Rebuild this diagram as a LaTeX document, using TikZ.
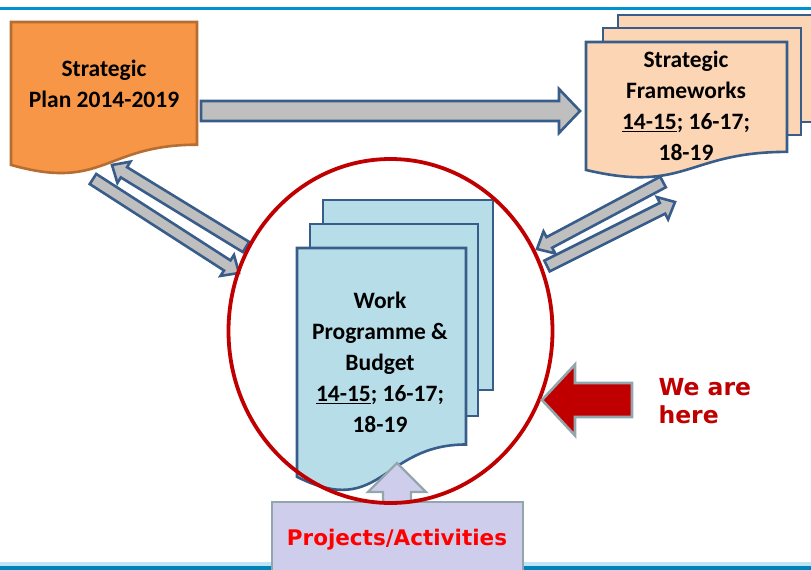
\documentclass[tikz,border=0pt]{standalone}
\usepackage{fontspec}
\setmainfont{Carlito}
\newfontfamily\verdana{DejaVu Sans}
\usetikzlibrary{calc}

\definecolor{slideblue}{RGB}{0,146,208}
\definecolor{planorange}{RGB}{247,150,70}
\definecolor{planedge}{RGB}{182,109,49}
\definecolor{frameskin}{RGB}{252,213,181}
\definecolor{docedge}{RGB}{56,93,138}
\definecolor{workblue}{RGB}{183,222,232}
\definecolor{arrowgray}{RGB}{191,191,191}
\definecolor{darkred}{RGB}{192,0,0}
\definecolor{slategray}{RGB}{147,166,172}
\definecolor{lavender}{RGB}{206,206,236}

% document sheet with wavy bottom: style, x, y, width, height
\newcommand{\docshape}[5]{%
  \draw[#1] (#2,#3) -- ({#2+#4},#3) -- ({#2+#4},{#3+0.802*#5})
    .. controls ({#2+0.5*#4},{#3+0.802*#5}) and ({#2+0.5*#4},{#3+1.107*#5}) .. (#2,{#3+0.934*#5}) -- cycle;}

% block arrow: style, from, to, shaft half width, head half width, head length
\newcommand{\blockarrow}[6]{%
  \coordinate (ba) at ($(#3)!#6!(#2)$);
  \draw[#1] ($(#2)!#4!90:(#3)$) -- ($(ba)!#4!-90:(#2)$) -- ($(ba)!#5!-90:(#2)$) -- (#3)
    -- ($(ba)!#5!90:(#2)$) -- ($(ba)!#4!90:(#2)$) -- ($(#2)!#4!-90:(#3)$) -- cycle;}

\begin{document}
\begin{tikzpicture}[
  x=1pt, y=-1pt,
  plandoc/.style={fill=planorange, draw=planedge, line width=2.6pt},
  framedoc/.style={fill=frameskin, draw=docedge, line width=2.6pt},
  workdoc/.style={fill=workblue, draw=docedge, line width=2.6pt},
  grayarrow/.style={fill=arrowgray, draw=docedge, line width=2.6pt, line join=miter},
  redarrow/.style={fill=darkred, draw=slategray, line width=2.6pt},
  liftarrow/.style={fill=lavender, draw=slategray, line width=2.4pt},
  doctext/.style={align=center, font=\fontsize{23.5}{31}\selectfont\bfseries},
  heretext/.style={align=left, text=darkred, font=\verdana\fontsize{23.5}{28}\selectfont\bfseries},
]
\useasboundingbox (0,0) rectangle (811,570);
\clip (0,0) rectangle (811,570);

% slide rules
\draw[slideblue, line width=3pt] (0,8) -- (811,8);
\fill[slideblue!25] (0,562) rectangle (811,566);
\fill[slideblue!90!black] (0,566) rectangle (811,570);

% Strategic plan
\docshape{plandoc}{11}{22}{186}{153}

% Strategic frameworks (three sheets)
\draw[framedoc] (618,15) rectangle (818,122);
\draw[framedoc] (603,28) rectangle (801,135);
\docshape{framedoc}{586}{42}{201}{137}

% Work programme (three sheets)
\draw[workdoc] (323,200) rectangle (493,390);
\draw[workdoc] (310,224) rectangle (478,416);
\docshape{workdoc}{297}{248}{169}{245}

% Arrow ends
\coordinate (plan-out) at (201,111);
\coordinate (frame-in) at (580,111);
\coordinate (work-nw) at (246,247);
\coordinate (plan-in) at (112,165);
\coordinate (plan-se) at (93,179);
\coordinate (work-w) at (239,273);
\coordinate (frame-sw) at (663,182);
\coordinate (work-ne) at (537,249);
\coordinate (work-e) at (547,266);
\coordinate (frame-in2) at (675,202);

% Gray arrows
\blockarrow{grayarrow}{plan-out}{frame-in}{10pt}{22pt}{21pt}
\blockarrow{grayarrow}{work-nw}{plan-in}{6pt}{12.5pt}{14pt}
\blockarrow{grayarrow}{plan-se}{work-w}{6pt}{12.5pt}{14pt}
\blockarrow{grayarrow}{frame-sw}{work-ne}{6pt}{12.5pt}{14pt}
\blockarrow{grayarrow}{work-e}{frame-in2}{6pt}{12.5pt}{14pt}

% Projects / activities
\draw[liftarrow] (272,502) rectangle (523,580);
\coordinate (proj-top) at (397,502);
\coordinate (work-bottom) at (397,463);
\blockarrow{liftarrow}{proj-top}{work-bottom}{14pt}{29pt}{29pt}

% Focus ring
\draw[darkred, line width=3.8pt] (390.5,331) ellipse [x radius=162, y radius=172];

% We are here
\coordinate (here-tail) at (632,400);
\coordinate (ring-e) at (542,400);
\blockarrow{redarrow}{here-tail}{ring-e}{17pt}{35.5pt}{33pt}

% Labels
\node[doctext] (plan) at (104,84) {Strategic\\Plan 2014-2019};
\node[doctext] (frame) at (686,106) {Strategic\\Frameworks\\\underline{14-15}; 16-17;\\18-19};
\node[doctext] (work) at (380,362) {Work\\Programme \&\\Budget\\\underline{14-15}; 16-17;\\18-19};
\node[heretext, anchor=west] (here) at (655,401) {We are\\here};
\node[text={rgb,255:red,255;green,0;blue,0}, font=\verdana\fontsize{21.5}{24}\selectfont\bfseries] (proj) at (397,540) {Projects/Activities};

\end{tikzpicture}
\end{document}
